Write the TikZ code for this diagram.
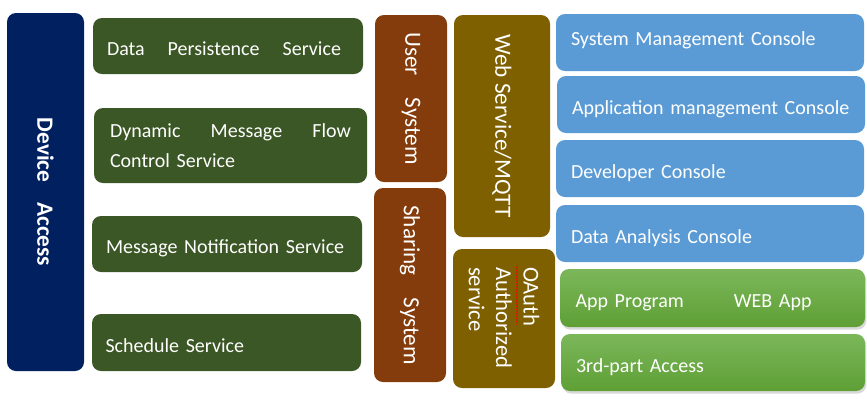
\documentclass[tikz,border=0pt]{standalone}
\usepackage{fontspec}
\setmainfont{Carlito}
\usepackage{xcolor}
\usetikzlibrary{shadows,decorations.pathmorphing}
\newdimen\px \px=0.75pt
\definecolor{devnavy}{HTML}{002060}
\definecolor{svcgreen}{HTML}{3B5725}
\definecolor{sysbrown}{HTML}{843C0C}
\definecolor{webolive}{HTML}{7F6000}
\definecolor{conblue}{HTML}{5B9BD5}
\definecolor{apptop}{HTML}{7BB75A}
\definecolor{appbot}{HTML}{5E9F35}

\begin{document}
\begin{tikzpicture}[x=0.75pt,y=-0.75pt,
  blk/.style={rounded corners=9\px, inner sep=0pt, text=white, font=\fontsize{15}{23}\selectfont},
  line/.style={text height=19\px, text depth=0pt},
  svc/.style={blk, line, fill=svcgreen, minimum width=270\px, minimum height=56\px, text width=242\px, align=left},
  col/.style={blk, rotate=-90, font=\fontsize{17.4}{22}\selectfont},
  con/.style={blk, line, fill=conblue, minimum width=308\px, minimum height=57\px, text width=278\px, align=left},
  app/.style={blk, line, top color=apptop, bottom color=appbot, drop shadow={opacity=0.3, shadow xshift=1pt, shadow yshift=-2pt},
    minimum width=304\px, minimum height=57\px, text width=274\px, align=left}]
\useasboundingbox (0,0) rectangle (867,405);

% device side
\node[col, fill=devnavy, minimum width=358\px, minimum height=77\px, font=\fontsize{17.5}{22}\selectfont\bfseries] (dev) at (45.5,192) {Device\hspace{20\px}Access};

% services
\node[svc] (dps) at (228,46) {Data\hspace{23\px}Persistence\hspace{23\px}Service};
\node[svc, text height=, text depth=, minimum width=273\px, minimum height=75\px, text width=241\px] (dmf) at (230.5,145.5) {Dynamic\hfill Message\hfill Flow\\Control Service};
\node[svc] (mns) at (227,244) {Message Notification Service};
\node[svc, minimum width=269\px, minimum height=57\px] (sch) at (226.5,342.5) {Schedule Service};

% user and sharing
\node[col, fill=sysbrown, minimum width=167\px, minimum height=72\px] (usr) at (411,98.5) {User\hspace{22\px}System};
\node[col, fill=sysbrown, minimum width=194\px, minimum height=72\px] (shr) at (410,285) {Sharing\hspace{22\px}System};

% web service and oauth
\node[col, fill=webolive, minimum width=222\px, minimum height=96\px] (web) at (502,126) {Web Service/MQTT};
\node[col, fill=webolive, minimum width=139\px, minimum height=102\px, text width=103\px, align=left, font=\fontsize{17}{20.5}\selectfont] (oau) at (504,318.5) {OAuth\\Authorized\\service};
\draw[red, decorate, decoration={snake, amplitude=0.7\px, segment length=3\px}] (517,265) -- (517,325);

% consoles
\node[con, text height=5\px] (smc) at (710,42.5) {System Management Console};
\node[con] (amc) at (711,104.5) {Application management Console};
\node[con] (dvc) at (710,168.5) {Developer Console};
\node[con] (dac) at (710,233.5) {Data Analysis Console};

% apps
\node[app, minimum width=305\px, minimum height=58\px] (apg) at (712.5,298) {App Program\hspace{50\px}WEB App};
\node[app] (tpa) at (713,362.5) {3rd-part Access};
\end{tikzpicture}
\end{document}
